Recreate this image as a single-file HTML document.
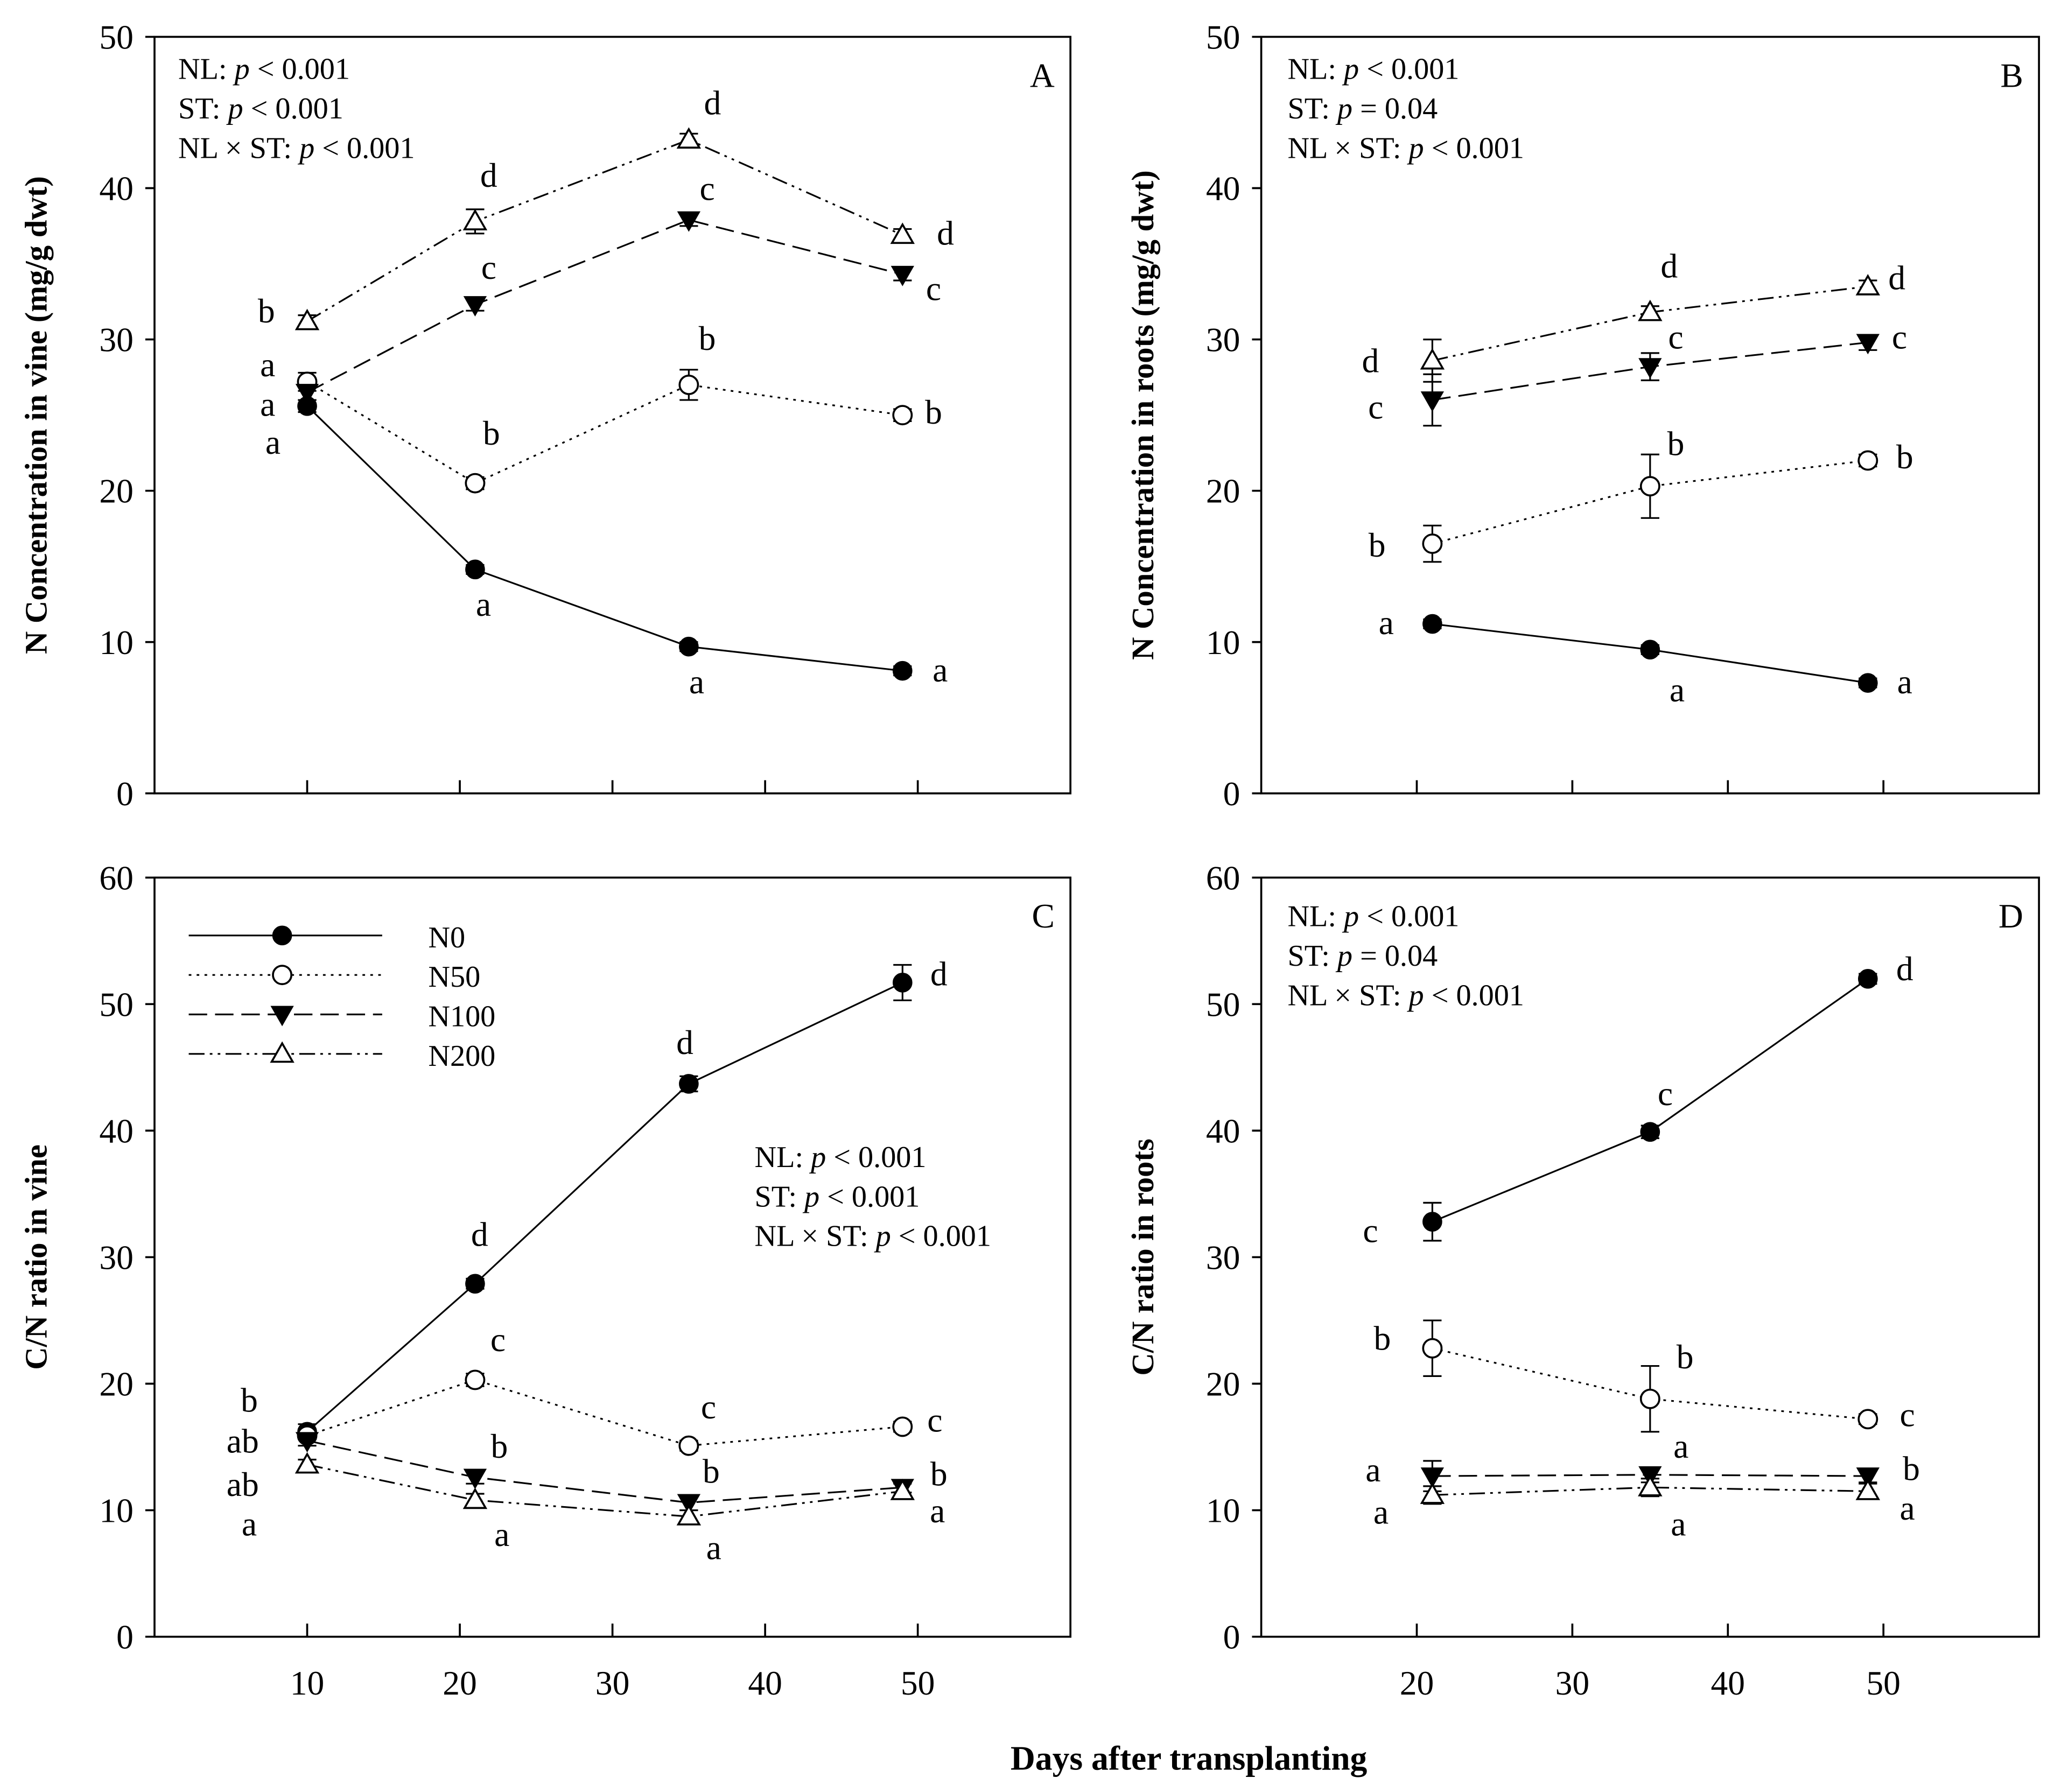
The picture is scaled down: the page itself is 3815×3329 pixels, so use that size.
<!DOCTYPE html>
<html><head><meta charset="utf-8"><style>
html,body{margin:0;padding:0;background:#fff;}
svg{display:block;}
text{font-family:"Liberation Serif",serif;fill:#000;}
</style></head><body>
<svg id="fig" width="3815" height="3329" viewBox="0 0 1560 1362" xmlns="http://www.w3.org/2000/svg"></svg>
<script>
// ---- data ----
const daysAC = [10, 21, 35, 49];
const daysBD = [21, 35, 49];
const seriesNames = ["N0", "N50", "N100", "N200"];
const aN0 = [25.6, 14.8, 9.7, 8.1];
const aN50 = [27.2, 20.5, 27.0, 25.0];
const aN100 = [26.5, 32.3, 37.9, 34.3];
const aN200 = [31.2, 37.8, 43.2, 36.9];
const aErr = [[0.4,0.3,0.3,0.3],[0.6,0.4,1.0,0.4],[0.5,0.4,0.4,0.4],[0.4,0.8,0.4,0.4]];
const bN0 = [11.2, 9.5, 7.3];
const bN50 = [16.5, 20.3, 22.0];
const bN100 = [26.0, 28.2, 29.8];
const bN200 = [28.6, 31.8, 33.5];
const bErr = [[0.3,0.3,0.3],[1.2,2.1,0.4],[1.7,0.9,0.5],[1.4,0.4,0.4]];
const cN0 = [16.2, 27.9, 43.7, 51.7];
const cN50 = [15.9, 20.3, 15.1, 16.6];
const cN100 = [15.5, 12.6, 10.6, 11.8];
const cN200 = [13.6, 10.8, 9.5, 11.5];
const cErr = [[0.6,0.4,0.6,1.4],[0.3,0.5,0.4,0.4],[0.4,0.5,0.6,0.4],[0.4,0.5,0.5,0.6]];
const dN0 = [32.8, 39.9, 52.0];
const dN50 = [22.8, 18.8, 17.2];
const dN100 = [12.7, 12.8, 12.7];
const dN200 = [11.2, 11.8, 11.5];
const dErr = [[1.5,0.5,0.4],[2.2,2.6,0.4],[1.2,0.6,0.5],[0.7,0.7,0.6]];
const yTicksAB = [0, 10, 20, 30, 40, 50];
const yTicksCD = [0, 10, 20, 30, 40, 50, 60];
const xTicksAC = [10, 20, 30, 40, 50];
const xTicksBD = [20, 30, 40, 50];

const NS = "http://www.w3.org/2000/svg";
const svg = document.getElementById("fig");
function el(tag, attrs, parent, txt) {
  const e = document.createElementNS(NS, tag);
  for (const k in attrs) e.setAttribute(k, attrs[k]);
  if (txt !== undefined) e.textContent = txt;
  (parent || svg).appendChild(e);
  return e;
}
const dashes = ["", "2,4", "14,6", "12,4,2,4,2,4"];

function marker(g, i, x, y) {
  let m;
  if (i === 0) m = el("circle", {cx:x, cy:y, r:7, fill:"#000", stroke:"#000"}, g);
  else if (i === 1) m = el("circle", {cx:x, cy:y, r:7, fill:"#fff", stroke:"#000", "stroke-width":1.5}, g);
  else if (i === 2) m = el("polygon", {points:`${x-8},${y-6} ${x+8},${y-6} ${x},${y+8}`, fill:"#000", stroke:"#000"}, g);
  else m = el("polygon", {points:`${x-8},${y+6} ${x+8},${y+6} ${x},${y-8}`, fill:"#fff", stroke:"#000", "stroke-width":1.5}, g);
  
  
}

function panel(id, box, xmin, xmax, ymax, xTicks, yTicks, days, series, errs, ytitle, letter, stats, statsPos, labels) {
  const g = el("g", {}, svg);
  
  
  const [x0, y0, x1, y1] = box;
  const sx = v => x0 + (v - xmin) / (xmax - xmin) * (x1 - x0);
  const sy = v => y1 - v / ymax * (y1 - y0);
  const frame = el("rect", {x:x0, y:y0, width:x1-x0, height:y1-y0, fill:"none", stroke:"#000", "stroke-width":1.5}, g);
  
  
  yTicks.forEach(t => {
    el("line", {x1:x0-7, x2:x0, y1:sy(t), y2:sy(t), stroke:"#000", "stroke-width":1.5}, g);
    const tl = el("text", {x:x0-16, y:sy(t)+9, "font-size":26, "text-anchor":"end"}, g, t);
    
    
  });
  xTicks.forEach(t => {
    el("line", {x1:sx(t), x2:sx(t), y1:y1, y2:y1-10, stroke:"#000", "stroke-width":1.5}, g);
    if (id === "C" || id === "D") {
      const tl = el("text", {x:sx(t), y:y1+44, "font-size":26, "text-anchor":"middle"}, g, t);
      
      
    }
  });
  const yt = el("text", {x:0, y:0, "font-size":24, "font-weight":"bold", "text-anchor":"middle",
    transform:`translate(${x0-82},${(y0+y1)/2}) rotate(-90)`}, g, ytitle);
  
  
  const lt = el("text", {x:x1-12, y:y0+38, "font-size":26, "text-anchor":"end"}, g, letter);
  
  
  stats.forEach((s, k) => {
    const t = el("text", {x:statsPos[0], y:statsPos[1] + k*30, "font-size":23}, g);
    
    
    el("tspan", {}, t, s[0]);
    el("tspan", {"font-style":"italic"}, t, "p");
    el("tspan", {}, t, s[1]);
  });
  series.forEach((vals, i) => {
    const pts = vals.map((v, j) => `${sx(days[j])},${sy(v)}`).join(" ");
    const line = el("polyline", {points:pts, fill:"none", stroke:"#000", "stroke-width":1.3, "stroke-dasharray":dashes[i]}, g);
    
    
    vals.forEach((v, j) => {
      const e = errs[i][j], x = sx(days[j]);
      el("line", {x1:x, x2:x, y1:sy(v-e), y2:sy(v+e), stroke:"#000", "stroke-width":1.3}, g);
      el("line", {x1:x-7, x2:x+7, y1:sy(v-e), y2:sy(v-e), stroke:"#000", "stroke-width":1.3}, g);
      el("line", {x1:x-7, x2:x+7, y1:sy(v+e), y2:sy(v+e), stroke:"#000", "stroke-width":1.3}, g);
    });
  });
  series.forEach((vals, i) => vals.forEach((v, j) => marker(g, i, sx(days[j]), sy(v))));
  labels.forEach(l => {
    const t = el("text", {x:l[0], y:l[1], "font-size":26, "text-anchor":"middle"}, g, l[2]);
    
    
  });
}

const st1 = [["NL: ", " < 0.001"], ["ST: ", " < 0.001"], ["NL × ST: ", " < 0.001"]];
const st2 = [["NL: ", " < 0.001"], ["ST: ", " = 0.04"], ["NL × ST: ", " < 0.001"]];

panel("A", [117,28,813,603], 0, 60, 50, xTicksAC, yTicksAB, daysAC, [aN0,aN50,aN100,aN200], aErr,
  "N Concentration in vine (mg/g dwt)", "A", st1, [135,60],
  [[202,245,"b"],[203,286,"a"],[203,316,"a"],[207,345,"a"],[371,142,"d"],[371,212,"c"],[373,338,"b"],[367,468,"a"],
   [541,87,"d"],[537,152,"c"],[537,266,"b"],[529,527,"a"],[718,186,"d"],[709,228,"c"],[709,322,"b"],[714,518,"a"]]);
panel("B", [958,28,1549,603], 10, 60, 50, xTicksBD, yTicksAB, daysBD, [bN0,bN50,bN100,bN200], bErr,
  "N Concentration in roots (mg/g dwt)", "B", st2, [978,60],
  [[1041,283,"d"],[1045,318,"c"],[1046,423,"b"],[1053,482,"a"],[1268,211,"d"],[1273,265,"c"],[1273,346,"b"],[1274,533,"a"],
   [1441,220,"d"],[1443,265,"c"],[1447,356,"b"],[1447,527,"a"]]);
panel("C", [117,667,813,1244], 0, 60, 60, xTicksAC, yTicksCD, daysAC, [cN0,cN50,cN100,cN200], cErr,
  "C/N ratio in vine", "C", st1, [573,887],
  [[189,1073,"b"],[184,1104,"ab"],[184,1137,"ab"],[189,1167,"a"],[364,947,"d"],[378,1027,"c"],[379,1108,"b"],[381,1175,"a"],
   [520,801,"d"],[538,1078,"c"],[540,1127,"b"],[542,1185,"a"],[713,749,"d"],[710,1088,"c"],[713,1129,"b"],[712,1157,"a"]]);
panel("D", [958,667,1549,1244], 10, 60, 60, xTicksBD, yTicksCD, daysBD, [dN0,dN50,dN100,dN200], dErr,
  "C/N ratio in roots", "D", st2, [978,704],
  [[1041,944,"c"],[1050,1026,"b"],[1043,1126,"a"],[1049,1158,"a"],[1265,840,"c"],[1280,1040,"b"],[1277,1108,"a"],[1275,1167,"a"],
   [1447,745,"d"],[1449,1084,"c"],[1452,1125,"b"],[1449,1155,"a"]]);

// legend in panel C
const lg = el("g", {}, svg);


seriesNames.forEach((n, i) => {
  const y = 711 + i*30;
  const ln = el("line", {x1:143, x2:290, y1:y, y2:y, stroke:"#000", "stroke-width":1.3, "stroke-dasharray":dashes[i]}, lg);
  
  
  marker(lg, i, 214, y);
  const t = el("text", {x:325, y:y+9, "font-size":23}, lg, n);
  
  
});

const xt = el("text", {x:903, y:1345, "font-size":26, "font-weight":"bold", "text-anchor":"middle"}, svg, "Days after transplanting");


</script>
</body></html>
